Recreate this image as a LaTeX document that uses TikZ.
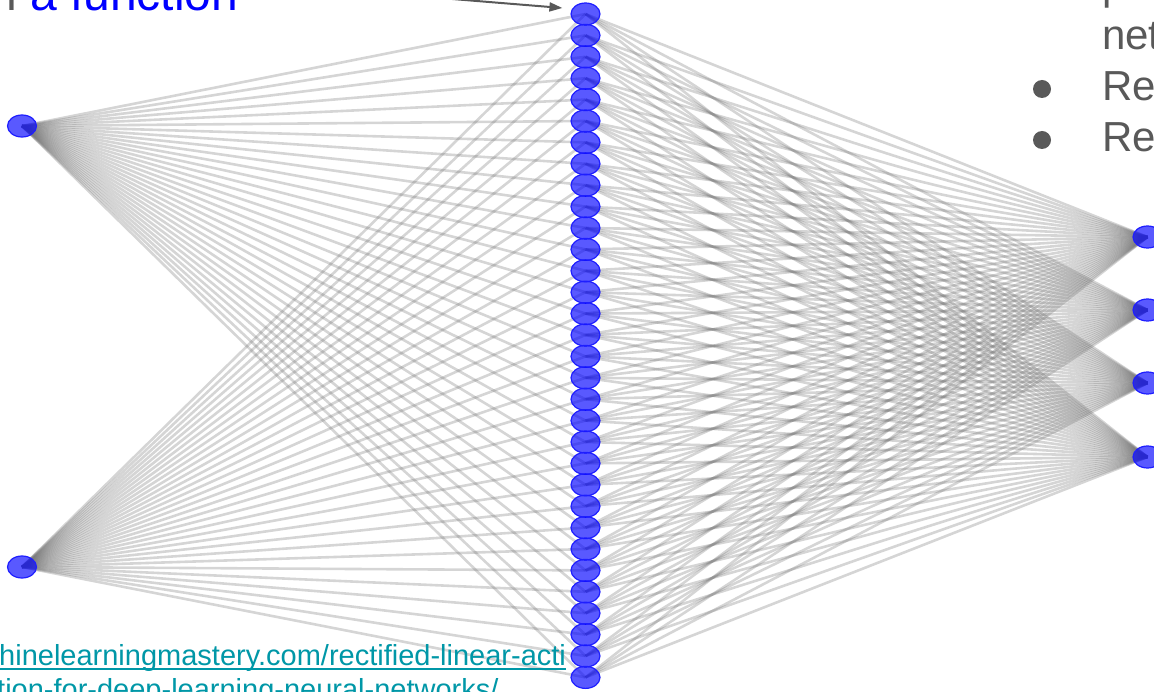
\documentclass[tikz,border=0pt]{standalone}
\usepackage{fontspec}
\setmainfont{Liberation Sans}
\usetikzlibrary{shapes.geometric,arrows.meta,backgrounds,calc}
\definecolor{nodeblue}{RGB}{30,30,255}
\definecolor{slidegray}{RGB}{89,89,89}
\definecolor{linkteal}{RGB}{0,151,167}

\begin{document}
\begin{tikzpicture}[x=1pt, y=-1pt, line join=round, line cap=round,
    neuron/.style={ellipse, draw=nodeblue, line width=1.2pt, fill=blue, fill opacity=0.65,
        minimum width=29pt, minimum height=22pt, inner sep=0pt},
    wire/.style={black!55, draw opacity=0.3, line width=2.6pt},
    slidetext/.style={anchor=base west, inner sep=0pt, text=slidegray, font=\fontsize{42}{50}\selectfont},
    urltext/.style={anchor=base west, inner sep=0pt, text=linkteal, font=\fontsize{29}{34}\selectfont}]
    % frame of the slide crop
    \useasboundingbox (0,0) rectangle (1154,692);

    % input layer
    \foreach \i/\y in {1/126, 2/567}
        \node[neuron] (in\i) at (22,\y) {};

    % hidden layer
    \foreach \j in {1,...,32}
        \node[neuron] (h\j) at (585.5,{14+(\j-1)*21.4}) {};

    % output layer
    \foreach \k/\y in {1/237, 2/310, 3/383, 4/457}
        \node[neuron] (out\k) at (1147.5,\y) {};

    % all connections, behind the neurons
    \begin{scope}[on background layer]
        \foreach \j in {1,...,32} {
            \foreach \i in {1,2}
                \draw[wire] (in\i.center) -- (h\j.center);
            \foreach \k in {1,...,4}
                \draw[wire] (h\j.center) -- (out\k.center);
        }
    \end{scope}

    % arrow pointing at the hidden layer
    \coordinate (tail) at (440,-2);
    \draw[slidegray, line width=2pt, -{Triangle[length=13pt,width=9pt]}] (tail) -- ($(h1.west)+(-8,-6)$);

    % title text (top left)
    \node[anchor=base west, inner sep=0pt, font=\fontsize{48}{57}\selectfont] (title) at (-90,11)
        {\textcolor{slidegray}{learn} \textcolor{blue}{a function}};

    % bullet text (top right)
    \node[slidetext] (line0) at (1102,0) {pro};
    \node[slidetext] (line1) at (1102,50) {net};
    \node[slidetext] (re1) at (1102,101) {Re};
    \node[slidetext] (re2) at (1102,152) {Re};
    \fill[slidegray] (1042,89) circle (9);
    \fill[slidegray] (1042,140) circle (9);

    % source link (bottom left)
    \node[urltext] (url1) at (-1,665) {hinelearningmastery.com/rectified-linear-acti};
    \node[urltext] (url2) at (-3,699) {tion-for-deep-learning-neural-networks/};
    \draw[linkteal, line width=2pt, line cap=butt] ([yshift=-4pt]url1.base west) -- ([yshift=-4pt]url1.base east);
\end{tikzpicture}
\end{document}
